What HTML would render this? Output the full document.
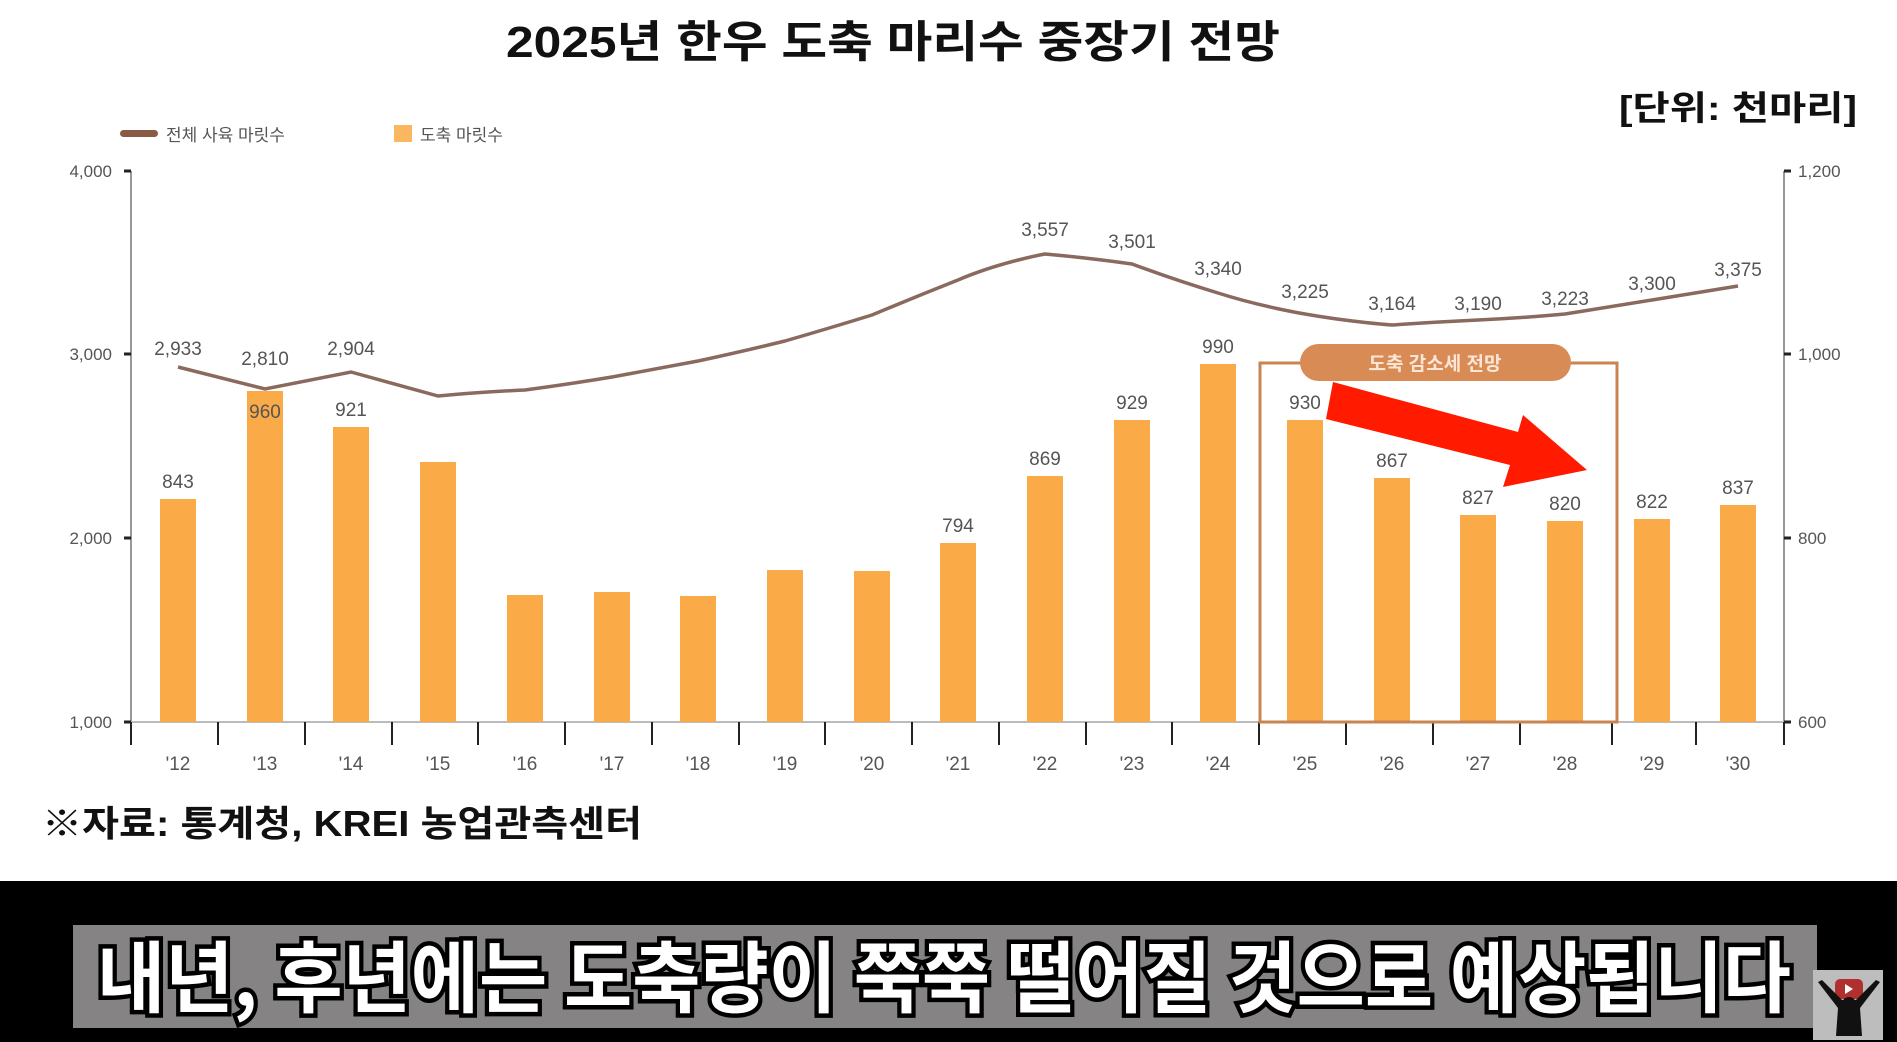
<!DOCTYPE html>
<html><head><meta charset="utf-8"><style>
html,body{margin:0;padding:0;background:#fff;}
svg{display:block;}
</style></head><body>
<svg width="1897" height="1042" viewBox="0 0 1897 1042" xmlns="http://www.w3.org/2000/svg" font-family="'Liberation Sans','Noto Sans CJK KR',sans-serif">
<rect width="1897" height="1042" fill="#fff"/>
<text x="506" y="57" font-size="44" font-weight="bold" fill="#111" textLength="774" lengthAdjust="spacingAndGlyphs">2025년 한우 도축 마리수 중장기 전망</text>
<text x="1619" y="120" font-size="34" font-weight="bold" fill="#111" textLength="238" lengthAdjust="spacingAndGlyphs">[단위: 천마리]</text>
<!-- legend -->
<rect x="120" y="130" width="38" height="7" rx="3.5" fill="#8a5a45"/>
<text x="166" y="141" font-size="17" fill="#555">전체 사육 마릿수</text>
<rect x="394" y="125" width="18" height="17" fill="#fbb660"/>
<text x="420" y="141" font-size="17" fill="#555">도축 마릿수</text>
<!-- axes -->
<line x1="131" y1="171" x2="131" y2="722" stroke="#777" stroke-width="1.5"/>
<line x1="1784" y1="171" x2="1784" y2="722" stroke="#777" stroke-width="1.5"/>
<line x1="131" y1="722" x2="1784" y2="722" stroke="#bbb" stroke-width="2"/>
<g stroke="#222" stroke-width="3">
<line x1="124" y1="171" x2="131" y2="171"/><line x1="124" y1="354" x2="131" y2="354"/><line x1="124" y1="538" x2="131" y2="538"/><line x1="124" y1="722" x2="131" y2="722"/>
<line x1="1784" y1="171" x2="1791" y2="171"/><line x1="1784" y1="354" x2="1791" y2="354"/><line x1="1784" y1="538" x2="1791" y2="538"/><line x1="1784" y1="722" x2="1791" y2="722"/>
</g>
<g font-size="17" fill="#555">
<text x="112" y="177" text-anchor="end">4,000</text><text x="112" y="360" text-anchor="end">3,000</text><text x="112" y="544" text-anchor="end">2,000</text><text x="112" y="728" text-anchor="end">1,000</text>
<text x="1798" y="177">1,200</text><text x="1798" y="360">1,000</text><text x="1798" y="544">800</text><text x="1798" y="728">600</text>
</g>
<!-- x ticks -->
<g stroke="#222" stroke-width="2">
<line x1="131" y1="722" x2="131" y2="745"/><line x1="218" y1="722" x2="218" y2="745"/><line x1="305" y1="722" x2="305" y2="745"/><line x1="392" y1="722" x2="392" y2="745"/><line x1="478" y1="722" x2="478" y2="745"/><line x1="565" y1="722" x2="565" y2="745"/><line x1="652" y1="722" x2="652" y2="745"/><line x1="739" y1="722" x2="739" y2="745"/><line x1="825" y1="722" x2="825" y2="745"/><line x1="912" y1="722" x2="912" y2="745"/><line x1="999" y1="722" x2="999" y2="745"/><line x1="1086" y1="722" x2="1086" y2="745"/><line x1="1172" y1="722" x2="1172" y2="745"/><line x1="1259" y1="722" x2="1259" y2="745"/><line x1="1346" y1="722" x2="1346" y2="745"/><line x1="1433" y1="722" x2="1433" y2="745"/><line x1="1520" y1="722" x2="1520" y2="745"/><line x1="1612" y1="722" x2="1612" y2="745"/><line x1="1696" y1="722" x2="1696" y2="745"/><line x1="1784" y1="722" x2="1784" y2="745"/>
</g>
<g font-size="19" fill="#555" text-anchor="middle">
<text x="178" y="770">'12</text><text x="265" y="770">'13</text><text x="351" y="770">'14</text><text x="438" y="770">'15</text><text x="525" y="770">'16</text><text x="612" y="770">'17</text><text x="698" y="770">'18</text><text x="785" y="770">'19</text><text x="872" y="770">'20</text><text x="958" y="770">'21</text><text x="1045" y="770">'22</text><text x="1132" y="770">'23</text><text x="1218" y="770">'24</text><text x="1305" y="770">'25</text><text x="1392" y="770">'26</text><text x="1478" y="770">'27</text><text x="1565" y="770">'28</text><text x="1652" y="770">'29</text><text x="1738" y="770">'30</text>
</g>
<!-- bars -->
<g fill="#fbaa48">
<rect x="160" y="499" width="36" height="223"/><rect x="247" y="391" width="36" height="331"/><rect x="333" y="427" width="36" height="295"/><rect x="420" y="462" width="36" height="260"/><rect x="507" y="595" width="36" height="127"/><rect x="594" y="592" width="36" height="130"/><rect x="680" y="596" width="36" height="126"/><rect x="767" y="570" width="36" height="152"/><rect x="854" y="571" width="36" height="151"/><rect x="940" y="543" width="36" height="179"/><rect x="1027" y="476" width="36" height="246"/><rect x="1114" y="420" width="36" height="302"/><rect x="1200" y="364" width="36" height="358"/><rect x="1287" y="420" width="36" height="302"/><rect x="1374" y="478" width="36" height="244"/><rect x="1460" y="515" width="36" height="207"/><rect x="1547" y="521" width="36" height="201"/><rect x="1634" y="519" width="36" height="203"/><rect x="1720" y="505" width="36" height="217"/>
</g>
<g font-size="19" fill="#555" text-anchor="middle">
<text x="178" y="488">843</text><text x="265" y="418">960</text><text x="351" y="416">921</text><text x="958" y="532">794</text><text x="1045" y="465">869</text><text x="1132" y="409">929</text><text x="1218" y="353">990</text><text x="1305" y="409">930</text><text x="1392" y="467">867</text><text x="1478" y="504">827</text><text x="1565" y="510">820</text><text x="1652" y="508">822</text><text x="1738" y="494">837</text>
</g>
<!-- line -->
<path d="M178,367 L265,389 L351,372 L438,396 C480,392 525,390 525,390 C570,384 612,377 612,377 C655,369 698,361 698,361 C740,352 785,341 785,341 C830,328 872,315 872,315 C915,297 958,280 958,280 C1000,262 1045,254 1045,254 C1090,258 1132,264 1132,264 C1175,280 1218,293 1218,293 C1262,307 1305,314 1305,314 C1350,322 1392,325 1392,325 C1435,322 1478,320 1478,320 C1522,318 1565,314 1565,314 C1610,307 1652,300 1652,300 C1695,293 1738,286 1738,286" fill="none" stroke="#8a6a5e" stroke-width="3.5"/>
<g font-size="19" fill="#555" text-anchor="middle">
<text x="178" y="355">2,933</text><text x="265" y="365">2,810</text><text x="351" y="355">2,904</text><text x="1045" y="236">3,557</text><text x="1132" y="248">3,501</text><text x="1218" y="275">3,340</text><text x="1305" y="298">3,225</text><text x="1392" y="310">3,164</text><text x="1478" y="310">3,190</text><text x="1565" y="305">3,223</text><text x="1652" y="290">3,300</text><text x="1738" y="276">3,375</text>
</g>
<!-- highlight box -->
<rect x="1260" y="363" width="357" height="359" fill="none" stroke="#c98451" stroke-width="3"/>
<rect x="1300" y="344" width="271" height="37" rx="18.5" fill="#d98b56"/>
<text x="1435" y="370" text-anchor="middle" font-size="19" font-weight="bold" fill="#fbe6d6">도축 감소세 전망</text>
<polygon points="1333,382 1518,432 1523,415 1587,470 1503,487 1510,465 1326,419" fill="#ff1a00"/>
<!-- source -->
<text x="42" y="836" font-size="36" font-weight="bold" fill="#111" textLength="600" lengthAdjust="spacingAndGlyphs">※자료: 통계청, KREI 농업관측센터</text>
<!-- bottom band -->
<rect x="0" y="881" width="1897" height="161" fill="#000"/>
<rect x="73" y="925" width="1744" height="103" fill="#858383"/>
<text x="97" y="1006" font-size="78" font-weight="bold" fill="#fff" stroke="#000" stroke-width="9" paint-order="stroke" font-family="'Noto Sans CJK KR',sans-serif" textLength="1694" lengthAdjust="spacingAndGlyphs">내년, 후년에는 도축량이 쭉쭉 떨어질 것으로 예상됩니다</text>
<rect x="1813" y="970" width="70" height="70" fill="#bdbdbd"/>
<rect x="1835" y="979" width="28" height="20" rx="5" fill="#b03030"/>
<polygon points="1845,984 1845,994 1853,989" fill="#fff"/>
<path d="M1818,982 L1838,1008 L1836,1036 L1862,1036 L1860,1008 L1880,982 L1876,980 L1856,1000 L1842,1000 L1822,980 Z" fill="#111"/>
<circle cx="1849" cy="1004" r="7" fill="#111"/>
</svg>
</body></html>
